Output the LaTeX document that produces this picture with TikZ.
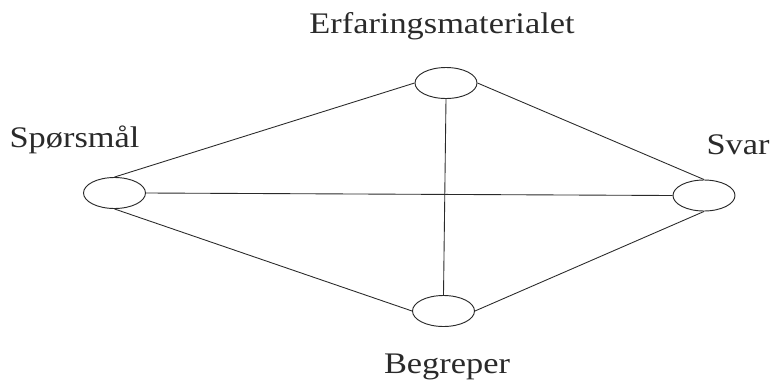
\documentclass[tikz,border=0pt]{standalone}
\usepackage{fontspec}
\setmainfont{Liberation Serif}[FakeStretch=1.15]
\usepackage{tikz}
\usetikzlibrary{shapes.geometric}
\definecolor{InkDark}{HTML}{2A2A2A}

\begin{document}
\begin{tikzpicture}[x=0.03cm, y=-0.03cm,
          every node/.style={font=\fontsize{25.5}{28}\selectfont, text=InkDark},
          knot/.style={draw=InkDark, ellipse, line width=0.8pt, inner sep=0pt,
            minimum width=1.86cm, minimum height=0.93cm},
          ln/.style={InkDark, line width=0.75pt}]
        \useasboundingbox (0,0) rectangle (771,383);
        % the four ellipses
        \node[knot] (erf) at (446,83) {};
        \node[knot] (spm) at (114.5,193) {};
        \node[knot] (svr) at (704,195.5) {};
        \node[knot] (beg) at (443.5,311) {};
        % labels
        \node[anchor=base] (lerf) at (442,33) {Erfaringsmaterialet};
        \node[anchor=base] (lspm) at (74.5,147) {Spørsmål};
        \node[anchor=base] (lsvr) at (738,154) {Svar};
        \node[anchor=base] (lbeg) at (447,373) {Begreper};
        % connections
        \draw[ln] (spm.north) -- (erf.west);
        \draw[ln] (erf.east) -- (svr.north);
        \draw[ln] (spm.east) -- (svr.west);
        \draw[ln] (erf.south) -- (beg.north);
        \draw[ln] (spm.south) -- (beg.west);
        \draw[ln] (beg.east) -- (svr.south);
\end{tikzpicture}
\end{document}
